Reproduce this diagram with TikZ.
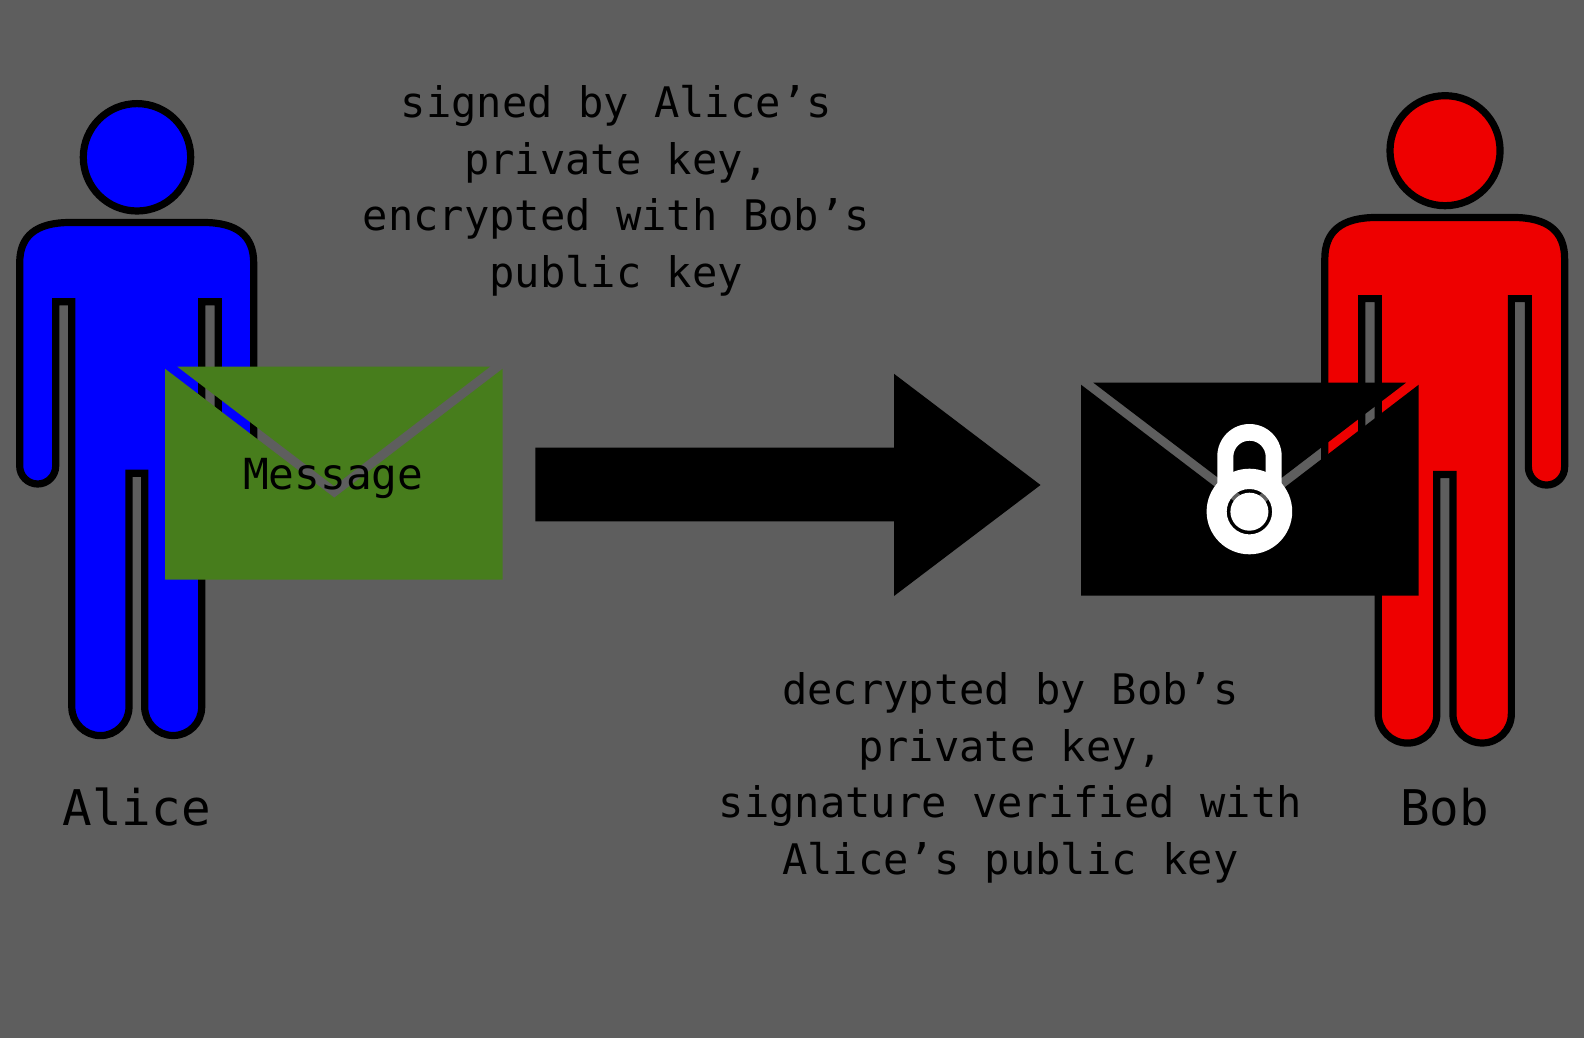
\documentclass[tikz,border=0pt]{standalone}
\usepackage{fontspec}
\setmonofont{DejaVu Sans Mono}
\definecolor{bgc}{HTML}{5E5E5E}
\definecolor{bobc}{HTML}{EE0000}
\definecolor{alicec}{HTML}{0000FF}
\definecolor{envc}{HTML}{477D1C}
% semicircle going below the current end: from (#1,#3) to (#2,#3), radius #4
\newcommand{\halfround}[4]{
  .. controls ({#1},{#3+0.5523*#4}) and ({(#1+#2)/2+0.5523*#4*(#1-#2)/abs(#1-#2)},{#3+#4}) .. ({(#1+#2)/2},{#3+#4})
  .. controls ({(#1+#2)/2-0.5523*#4*(#1-#2)/abs(#1-#2)},{#3+#4}) and ({#2},{#3+0.5523*#4}) .. ({#2},{#3})
}
\newcommand{\personshape}{
  (70,222.5) -- (203.4,222.5)
  .. controls (237.4,222.5) and (253.7,236) .. (253.7,263)
  -- (253.7,466) \halfround{253.7}{218.3}{466}{17.7}
  -- (218.3,301.7) -- (201.7,301.7) -- (201.7,707) \halfround{201.7}{144.7}{707}{28.5}
  -- (144.7,473.3) -- (129,473.3) -- (129,707) \halfround{129}{71.8}{707}{28.6}
  -- (71.8,301.7) -- (55.7,301.7) -- (55.7,466) \halfround{55.7}{19.7}{466}{18}
  -- (19.7,263) .. controls (19.7,236) and (36,222.5) .. (70,222.5) -- cycle
  (137,157.3) circle[radius=53.7]
}
\newcommand{\envelopeshape}{
  (177.3,366.7) -- (490,366.7) -- (334,486) -- cycle
  (165,368.7) -- (334.3,497.7) -- (502.7,368.7) -- (502.7,579.6) -- (165,579.6) -- cycle
}
\tikzset{
  person/.style={draw=black,line width=7.2pt,line join=miter,miter limit=10},
  txt/.style={font=\ttfamily\fontsize{42.1}{56.6}\selectfont,align=center,text=black,inner sep=0pt},
  namelabel/.style={font=\ttfamily\fontsize{49.2}{56}\selectfont,text=black,inner sep=0pt},
  msg/.style={font=\ttfamily\fontsize{42.8}{50}\selectfont,text=black,inner sep=0pt}
}
\begin{document}
\begin{tikzpicture}[x=1pt,y=-1pt]
\useasboundingbox (0,0) rectangle (1584,1038);
\fill[bgc] (0,0) rectangle (1584,1038);
% Alice
\path[person,fill=alicec] \personshape;
% Bob
\begin{scope}[shift={(1304.6,-10.45)},xscale=1.025,yscale=1.0244]
\path[person,fill=bobc] \personshape;
\end{scope}
% green envelope
\fill[envc] \envelopeshape;
% black envelope
\begin{scope}[shift={(916,16)}]
\fill[black] \envelopeshape;
\end{scope}
% arrow
\fill[black] (535.4,447.5) -- (894,447.5) -- (894,373.8) -- (1040.5,485) -- (894,596) -- (894,521.3) -- (535.4,521.3) -- cycle;
% padlock
\fill[white] (1217.3,490) -- (1217.3,456.2) .. controls (1217.3,438.4) and (1231.7,424) .. (1249.5,424)
  .. controls (1267.3,424) and (1281.7,438.4) .. (1281.7,456.2) -- (1281.7,490) -- (1265.7,490) -- (1265.7,456.9)
  .. controls (1265.7,447.9) and (1258.5,440.7) .. (1249.5,440.7) .. controls (1240.5,440.7) and (1233.3,447.9) .. (1233.3,456.9)
  -- (1233.3,490) -- cycle;
\fill[white,even odd rule] (1249.4,511.5) circle[radius=42.8] (1249.4,511.7) circle[radius=22.7] (1249.4,511.7) circle[radius=19];
% texts
\node[txt] (signed) at (616.3,190.7) {signed by Alice’s\\private key,\\encrypted with Bob’s\\public key};
\node[txt] (decrypted) at (1010.3,778) {decrypted by Bob’s\\private key,\\signature verified with\\Alice’s public key};
\node[msg] (message) at (333.2,478) {Message};
\node[namelabel] (alice) at (136.7,807) {Alice};
\node[namelabel] (bob) at (1444.6,807) {Bob};
\end{tikzpicture}
\end{document}
